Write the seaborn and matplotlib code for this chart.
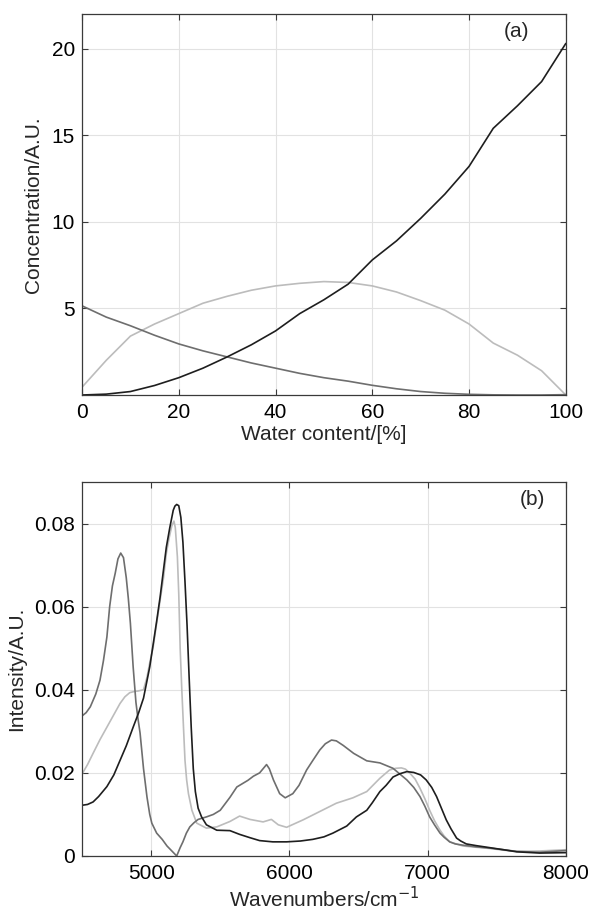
import matplotlib
matplotlib.use("Agg")
import matplotlib.pyplot as plt
import seaborn as sns
import pandas as pd

# (a) concentration profiles vs water content
water = [0, 5, 10, 15, 20, 25, 30, 35, 40, 45, 50,
         55, 60, 65, 70, 75, 80, 85, 90, 95, 100]
conc_dark = [0.0, 0.05, 0.2, 0.55, 1.0, 1.55, 2.2, 2.9, 3.7, 4.7, 5.5,
             6.4, 7.8, 8.9, 10.2, 11.6, 13.2, 15.4, 16.7, 18.1, 20.3]
conc_light = [0.45, 2.0, 3.4, 4.1, 4.7, 5.3, 5.7, 6.05, 6.3, 6.45, 6.55,
              6.5, 6.3, 5.95, 5.45, 4.9, 4.1, 3.0, 2.3, 1.4, 0.0]
conc_mid = [5.15, 4.5, 4.0, 3.45, 2.95, 2.55, 2.2, 1.85, 1.55, 1.25, 1.0,
            0.8, 0.56, 0.36, 0.2, 0.1, 0.04, 0.01, 0.0, 0.0, 0.02]

# (b) pure component spectra
wn_mid = [4500, 4530, 4560, 4600, 4630, 4655, 4680, 4700, 4720, 4740, 4760,
          4780, 4800, 4820, 4835, 4850, 4870, 4890, 4905, 4920, 4945, 4970,
          4990, 5005, 5040, 5080, 5115, 5150, 5185, 5210, 5230, 5255, 5280,
          5310, 5340, 5400, 5450, 5500, 5570, 5620, 5665, 5700, 5740, 5785,
          5810, 5835, 5855, 5885, 5930, 5970, 6025, 6070, 6125, 6170, 6220,
          6260, 6305, 6340, 6390, 6465, 6560, 6655, 6750, 6850, 6900, 6945,
          6980, 7015, 7050, 7090, 7120, 7160, 7200, 7255, 7350, 7450, 7550,
          7645, 7810, 8000]
int_mid = [0.0337, 0.0345, 0.0359, 0.0390, 0.0423, 0.0470, 0.0527, 0.0600,
           0.0650, 0.0680, 0.0715, 0.0729, 0.0718, 0.0670, 0.0620, 0.0560,
           0.0455, 0.0370, 0.0330, 0.0296, 0.0210, 0.0142, 0.0100, 0.0079,
           0.0055, 0.0040, 0.0024, 0.0012, 0.0000, 0.0020, 0.0034, 0.0055,
           0.0070, 0.0080, 0.0088, 0.0094, 0.0100, 0.0110, 0.0141, 0.0166,
           0.0175, 0.0182, 0.0192, 0.0200, 0.0210, 0.0220, 0.0210, 0.0183,
           0.0150, 0.0140, 0.0150, 0.0170, 0.0207, 0.0230, 0.0255, 0.0270,
           0.0279, 0.0277, 0.0266, 0.0247, 0.0229, 0.0224, 0.0211, 0.0183,
           0.0165, 0.0143, 0.0120, 0.0094, 0.0075, 0.0055, 0.0045, 0.0034,
           0.0029, 0.0026, 0.0022, 0.0019, 0.0015, 0.0011, 0.0009, 0.0013]

wn_dark = [4500, 4540, 4580, 4620, 4680, 4730, 4775, 4820, 4870, 4910, 4945,
           4990, 5015, 5040, 5065, 5090, 5110, 5135, 5160, 5172, 5185, 5200,
           5215, 5230, 5245, 5260, 5275, 5290, 5305, 5320, 5340, 5365, 5400,
           5475, 5570, 5640, 5715, 5785, 5880, 5980, 6080, 6170, 6250, 6315,
           6415, 6485, 6560, 6600, 6655, 6700, 6750, 6800, 6850, 6900, 6950,
           6990, 7030, 7065, 7100, 7135, 7170, 7210, 7240, 7280, 7350, 7450,
           7550, 7645, 7810, 8000]
int_dark = [0.0122, 0.0124, 0.0130, 0.0143, 0.0167, 0.0195, 0.0230, 0.0265,
            0.0310, 0.0345, 0.0380, 0.0455, 0.0510, 0.0565, 0.0623, 0.0690,
            0.0743, 0.0790, 0.0832, 0.0842, 0.0846, 0.0843, 0.0815, 0.0755,
            0.0660, 0.0555, 0.0430, 0.0310, 0.0210, 0.0155, 0.0115, 0.0094,
            0.0075, 0.0062, 0.0061, 0.0052, 0.0044, 0.0037, 0.0034, 0.0034,
            0.0036, 0.0040, 0.0046, 0.0055, 0.0072, 0.0094, 0.0110, 0.0128,
            0.0155, 0.0170, 0.0190, 0.0198, 0.0203, 0.0201, 0.0195, 0.0183,
            0.0165, 0.0143, 0.0115, 0.0087, 0.0065, 0.0043, 0.0036, 0.0029,
            0.0025, 0.0020, 0.0015, 0.0010, 0.0007, 0.0008]

wn_light = [4500, 4540, 4580, 4630, 4680, 4730, 4775, 4810, 4845, 4880, 4905,
            4945, 4970, 4990, 5015, 5040, 5065, 5090, 5110, 5130, 5150, 5165,
            5175, 5190, 5200, 5210, 5222, 5235, 5245, 5257, 5270, 5295, 5330,
            5400, 5475, 5570, 5640, 5715, 5810, 5870, 5920, 5980, 6100, 6220,
            6340, 6460, 6560, 6655, 6725, 6770, 6810, 6840, 6870, 6910, 6945,
            6980, 7015, 7050, 7090, 7120, 7160, 7255, 7350, 7450, 7550, 7645,
            7810, 8000]
int_light = [0.0197, 0.0220, 0.0247, 0.0280, 0.0310, 0.0340, 0.0367, 0.0383,
             0.0393, 0.0396, 0.0397, 0.0400, 0.0430, 0.0465, 0.0503, 0.0560,
             0.0615, 0.0670, 0.0728, 0.0765, 0.0795, 0.0806, 0.0790, 0.0720,
             0.0630, 0.0500, 0.0400, 0.0303, 0.0230, 0.0183, 0.0150, 0.0110,
             0.0079, 0.0067, 0.0070, 0.0083, 0.0096, 0.0088, 0.0082, 0.0088,
             0.0075, 0.0069, 0.0087, 0.0107, 0.0127, 0.0140, 0.0155, 0.0187,
             0.0207, 0.0211, 0.0212, 0.0209, 0.0200, 0.0185, 0.0163, 0.0138,
             0.0110, 0.0085, 0.0062, 0.0048, 0.0034, 0.0024, 0.0021, 0.0018,
             0.0014, 0.0011, 0.0012, 0.0015]

c_dark = "#1e1e1e"
c_mid = "#6e6e6e"
c_light = "#bcbcbc"
fs = 15

sns.set_style("whitegrid", {
    "axes.edgecolor": "#3a3a3a",
    "grid.color": "#e2e2e2",
    "xtick.direction": "in",
    "ytick.direction": "in",
})
plt.rcParams["font.family"] = ["Liberation Sans", "DejaVu Sans"]
plt.rcParams["font.size"] = fs

fig = plt.figure(figsize=(5.9, 9.11), dpi=100)
ax1 = fig.add_axes([0.139, 0.5664, 0.820, 0.4182])
ax2 = fig.add_axes([0.139, 0.0604, 0.820, 0.4105])

df_a = pd.DataFrame({"x": water, "dark": conc_dark, "light": conc_light, "mid": conc_mid})
for col, c in [("light", c_light), ("mid", c_mid), ("dark", c_dark)]:
    sns.lineplot(data=df_a, x="x", y=col, ax=ax1, color=c, lw=1.2, sort=False)

ax1.set_xlim(0, 100)
ax1.set_ylim(0, 22)
ax1.set_xticks([0, 20, 40, 60, 80, 100])
ax1.set_yticks([5, 10, 15, 20])
ax1.set_xlabel("Water content/[%]", fontsize=fs, labelpad=2)
ax1.set_ylabel("Concentration/A.U.", fontsize=fs, labelpad=6)
ax1.text(0.899, 0.953, "(a)", transform=ax1.transAxes, ha="center", va="center", fontsize=fs)

for wn, vals, c in [(wn_light, int_light, c_light), (wn_mid, int_mid, c_mid), (wn_dark, int_dark, c_dark)]:
    sns.lineplot(x=wn, y=vals, ax=ax2, color=c, lw=1.2, sort=False)

ax2.set_xlim(4500, 8000)
ax2.set_ylim(0, 0.09)
ax2.set_xticks([5000, 6000, 7000, 8000])
ax2.set_yticks([0, 0.02, 0.04, 0.06, 0.08])
ax2.set_yticklabels(["0", "0.02", "0.04", "0.06", "0.08"])
ax2.set_xlabel("Wavenumbers/cm$^{-1}$", fontsize=fs, labelpad=2)
ax2.set_ylabel("Intensity/A.U.", fontsize=fs, labelpad=6)
ax2.text(0.932, 0.952, "(b)", transform=ax2.transAxes, ha="center", va="center", fontsize=fs)

for ax in (ax1, ax2):
    ax.grid(True, lw=0.8)
    ax.tick_params(axis="both", which="both", direction="in", length=4, width=0.8,
                   colors="#3a3a3a", labelcolor="black", labelsize=fs,
                   top=True, right=True, bottom=True, left=True)
    ax.tick_params(axis="x", pad=6)
    ax.tick_params(axis="y", pad=5)
    for s in ax.spines.values():
        s.set_linewidth(0.9)
        s.set_visible(True)

fig.savefig("out.png", dpi=100)
